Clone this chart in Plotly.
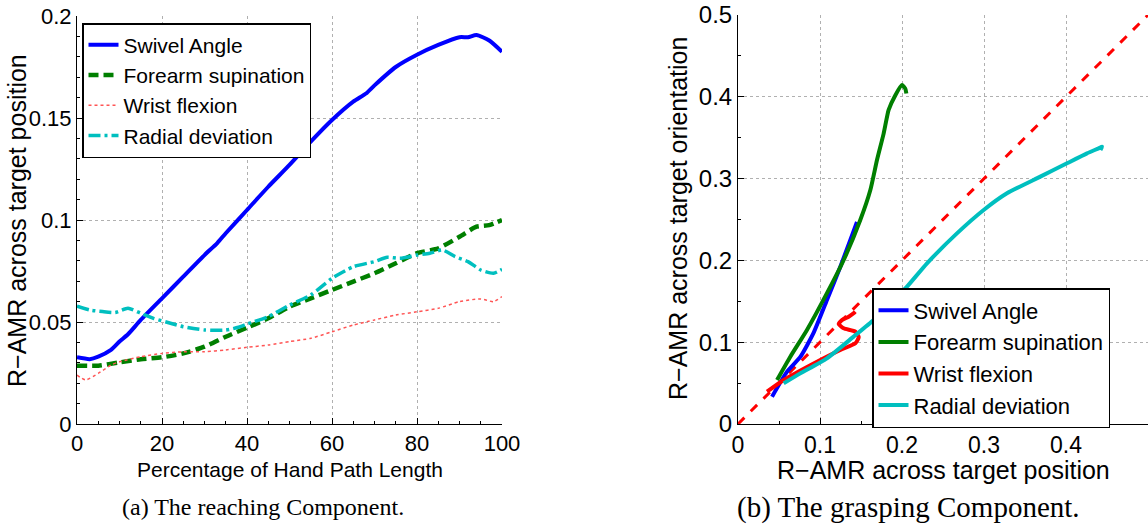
import plotly.graph_objects as go

# ---------------- Panel (a): reaching component ----------------
pct = [0, 3, 5, 8, 10, 12, 15, 20, 25, 30, 33, 35, 40, 45, 50, 55, 60, 65, 68, 70,
       75, 80, 85, 90, 92, 94, 97, 100]
swivel = [0.0327, 0.0318, 0.0330, 0.0363, 0.0404, 0.0440, 0.0510, 0.0616, 0.0722, 0.0828,
          0.0887, 0.0935, 0.1049, 0.1163, 0.1270, 0.1384, 0.1490, 0.1580, 0.1620, 0.1660,
          0.1750, 0.1810, 0.1858, 0.1896, 0.1896, 0.1907, 0.1880, 0.1825]

pct_fs = [0, 5, 10, 15, 20, 25, 30, 35, 40, 45, 50, 55, 60, 65, 70, 75, 80, 85, 90, 94, 97, 100]
forearm = [0.0286, 0.0286, 0.0302, 0.0317, 0.0327, 0.0346, 0.0379, 0.0428, 0.0472, 0.0518,
           0.0575, 0.0616, 0.0657, 0.0698, 0.0739, 0.0788, 0.0837, 0.0861, 0.0918, 0.0967,
           0.0975, 0.1000]

pct_wf = [0, 2, 5, 8, 10, 15, 20, 25, 30, 35, 40, 45, 50, 55, 60, 65, 70, 75, 80, 85, 90, 95, 98, 100]
wrist = [0.0240, 0.0216, 0.0248, 0.0289, 0.0305, 0.0330, 0.0346, 0.0354, 0.0354, 0.0363,
         0.0376, 0.0387, 0.0404, 0.0420, 0.0452, 0.0485, 0.0510, 0.0534, 0.0550, 0.0567,
         0.0600, 0.0613, 0.0600, 0.0624]

pct_rd = [0, 3, 6, 9, 12, 15, 18, 22, 25, 30, 35, 38, 40, 45, 50, 55, 60, 65, 70, 73, 76,
          80, 83, 86, 89, 92, 95, 98, 100]
radial = [0.0578, 0.0559, 0.0551, 0.0547, 0.0567, 0.0543, 0.0518, 0.0494, 0.0477, 0.0461,
          0.0461, 0.0474, 0.0490, 0.0526, 0.0583, 0.0632, 0.0714, 0.0771, 0.0796, 0.0817,
          0.0812, 0.0828, 0.0837, 0.0853, 0.0820, 0.0796, 0.0755, 0.0739, 0.0758]

# ---------------- Panel (b): grasping component ----------------
sw_pos = [0.0415, 0.0598, 0.0760, 0.0920, 0.1085, 0.1248, 0.1370, 0.1451]
sw_ori = [0.0334, 0.0640, 0.0820, 0.1110, 0.1516, 0.1923, 0.2250, 0.2470]

fs_pos = [0.0476, 0.0638, 0.0841, 0.1085, 0.1289, 0.1490, 0.1614, 0.1695, 0.1776, 0.1837,
          0.1919, 0.2000, 0.2040, 0.2053]
fs_ori = [0.0538, 0.0823, 0.1150, 0.1600, 0.2005, 0.2490, 0.2860, 0.3227, 0.3550, 0.3840,
          0.4020, 0.4144, 0.4100, 0.4040]

wf_pos = [0.0354, 0.0557, 0.0963, 0.1248, 0.1431, 0.1472, 0.1431, 0.1289, 0.1228, 0.1268,
          0.1350, 0.1410, 0.1430]
wf_ori = [0.0395, 0.0538, 0.0762, 0.0905, 0.0986, 0.1060, 0.1129, 0.1170, 0.1222, 0.1271,
          0.1312, 0.1353, 0.1373]

rd_pos = [0.0557, 0.0760, 0.1085, 0.1410, 0.1654, 0.1900, 0.2061, 0.2305, 0.2670, 0.2996,
          0.3280, 0.3687, 0.4012, 0.4256, 0.4398, 0.4440, 0.4420]
rd_ori = [0.0497, 0.0619, 0.0803, 0.1068, 0.1271, 0.1516, 0.1679, 0.1964, 0.2330, 0.2616,
          0.2820, 0.3024, 0.3187, 0.3309, 0.3370, 0.3390, 0.3350]

diag = [0, 0.5]

names = ["Swivel Angle", "Forearm supination", "Wrist flexion", "Radial deviation"]

left_ticks_x = [0, 20, 40, 60, 80, 100]
left_ticks_y = [0, 0.05, 0.1, 0.15, 0.2]
left_ticktext_y = ["0", "0.05", "0.1", "0.15", "0.2"]
right_ticks_x = [0, 0.1, 0.2, 0.3, 0.4]
right_ticktext_x = ["0", "0.1", "0.2", "0.3", "0.4"]
right_ticks_y = [0, 0.1, 0.2, 0.3, 0.4, 0.5]
right_ticktext_y = ["0", "0.1", "0.2", "0.3", "0.4", "0.5"]

BLUE = "#0000ff"
GREEN = "#007f00"
RED = "#ff0000"
CYAN = "#00bfbf"

SANS = "Liberation Sans, Arial, Helvetica, sans-serif"
SERIF = "Liberation Serif, Times New Roman, serif"

fig = go.Figure()

# panel (a)
fig.add_trace(go.Scatter(x=pct, y=swivel, mode="lines", name=names[0],
                         line=dict(color=BLUE, width=4, shape="spline", smoothing=0.6),
                         xaxis="x", yaxis="y", legend="legend"))
fig.add_trace(go.Scatter(x=pct_fs, y=forearm, mode="lines", name=names[1],
                         line=dict(color=GREEN, width=4.5, dash="10px,5px", shape="spline", smoothing=0.6),
                         xaxis="x", yaxis="y", legend="legend"))
fig.add_trace(go.Scatter(x=pct_wf, y=wrist, mode="lines", name=names[2],
                         line=dict(color="#ff5555", width=1.5, dash="dot", shape="spline", smoothing=0.6),
                         xaxis="x", yaxis="y", legend="legend"))
fig.add_trace(go.Scatter(x=pct_rd, y=radial, mode="lines", name=names[3],
                         line=dict(color=CYAN, width=3.5, dash="12px,4px,3px,4px", shape="spline", smoothing=0.6),
                         xaxis="x", yaxis="y", legend="legend"))

# panel (b)
fig.add_trace(go.Scatter(x=diag, y=diag, mode="lines", showlegend=False,
                         line=dict(color=RED, width=3, dash="dash"),
                         xaxis="x2", yaxis="y2"))
fig.add_trace(go.Scatter(x=sw_pos, y=sw_ori, mode="lines", name=names[0],
                         line=dict(color=BLUE, width=4, shape="spline", smoothing=0.5),
                         xaxis="x2", yaxis="y2", legend="legend2"))
fig.add_trace(go.Scatter(x=fs_pos, y=fs_ori, mode="lines", name=names[1],
                         line=dict(color=GREEN, width=4, shape="spline", smoothing=0.5),
                         xaxis="x2", yaxis="y2", legend="legend2"))
fig.add_trace(go.Scatter(x=wf_pos, y=wf_ori, mode="lines", name=names[2],
                         line=dict(color=RED, width=4, shape="spline", smoothing=0.5),
                         xaxis="x2", yaxis="y2", legend="legend2"))
fig.add_trace(go.Scatter(x=rd_pos, y=rd_ori, mode="lines", name=names[3],
                         line=dict(color=CYAN, width=4, shape="spline", smoothing=0.5),
                         xaxis="x2", yaxis="y2", legend="legend2"))

W, H = 1148, 524
def px_x(p):
    return p / W
def px_y(p):
    return 1 - p / H

axis_common = dict(showline=True, linecolor="black", linewidth=1, ticks="inside",
                   ticklen=6, tickcolor="black", showgrid=True, gridcolor="#b0b0b0",
                   griddash="dot", gridwidth=1, zeroline=False, mirror=False,
                   automargin=False,
                   minor=dict(ticks="inside", ticklen=3, tickcolor="black", showgrid=False))

fig.update_layout(
    template="none",
    width=W, height=H,
    margin=dict(l=0, r=0, t=0, b=0, pad=0),
    paper_bgcolor="white", plot_bgcolor="white",
    font=dict(family=SANS, color="black"),
    xaxis=dict(domain=[px_x(77), px_x(502)], range=[0, 100], tickvals=left_ticks_x,
               tickfont=dict(family=SANS, size=22, color="black"), anchor="y",
               ticklabelstandoff=0, **axis_common),
    yaxis=dict(domain=[px_y(424), px_y(16)], range=[0, 0.2], tickvals=left_ticks_y,
               ticktext=left_ticktext_y,
               tickfont=dict(family=SANS, size=22, color="black"), anchor="x",
               **axis_common),
    xaxis2=dict(domain=[px_x(738), 1.0], range=[0, 0.5], tickvals=right_ticks_x,
                ticktext=right_ticktext_x,
                tickfont=dict(family=SANS, size=23, color="black"), anchor="y2",
                ticklabelstandoff=0, **axis_common),
    yaxis2=dict(domain=[px_y(424), px_y(15)], range=[0, 0.5], tickvals=right_ticks_y,
                ticktext=right_ticktext_y,
                tickfont=dict(family=SANS, size=24, color="black"), anchor="x2",
                **axis_common),
    legend=dict(x=px_x(82), y=px_y(23), xanchor="left", yanchor="top",
                bgcolor="white", bordercolor="black", borderwidth=1.5,
                font=dict(family=SANS, size=21, color="black"),
                tracegroupgap=0, itemwidth=30),
    legend2=dict(x=px_x(872), y=px_y(288), xanchor="left", yanchor="top",
                 bgcolor="white", bordercolor="black", borderwidth=1.5,
                 font=dict(family=SANS, size=22, color="black"),
                 tracegroupgap=0, itemwidth=30),
    showlegend=True,
)

annotations = [
    dict(text="R\u2212AMR across target position", x=px_x(17), y=px_y(221), textangle=-90,
         font=dict(family=SANS, size=25, color="black")),
    dict(text="Percentage of Hand Path Length", x=px_x(290), y=px_y(469),
         font=dict(family=SANS, size=21, color="black")),
    dict(text="(a) The reaching Component.", x=px_x(263), y=px_y(507),
         font=dict(family=SERIF, size=24, color="black")),
    dict(text="R\u2212AMR across target orientation", x=px_x(678), y=px_y(219), textangle=-90,
         font=dict(family=SANS, size=25, color="black")),
    dict(text="R\u2212AMR across target position", x=px_x(943), y=px_y(470),
         font=dict(family=SANS, size=25, color="black")),
    dict(text="(b) The grasping Component.", x=px_x(908), y=px_y(507),
         font=dict(family=SERIF, size=29, color="black")),
]
for a in annotations:
    a.update(xref="paper", yref="paper", showarrow=False, xanchor="center", yanchor="middle")
fig.update_layout(annotations=annotations)

fig.write_html("out.html")
